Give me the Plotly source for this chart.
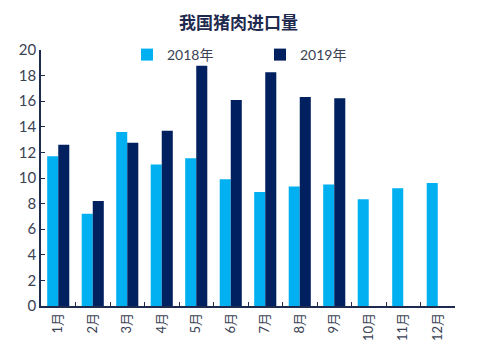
import plotly.graph_objects as go

months = ["1月", "2月", "3月", "4月", "5月", "6月", "7月", "8月", "9月", "10月", "11月", "12月"]
v2018 = [11.7, 7.2, 13.6, 11.05, 11.55, 9.9, 8.9, 9.33, 9.5, 8.34, 9.2, 9.6]
v2019 = [12.6, 8.2, 12.75, 13.7, 18.77, 16.1, 18.27, 16.33, 16.23, None, None, None]
y_ticks = list(range(0, 21, 2))

navy = "#1f2a4f"
txt = "#3a4254"
fig = go.Figure()
fig.add_trace(go.Bar(x=months, y=v2018, name="2018年", marker_color="#00b0f0", marker_line_width=0))
fig.add_trace(go.Bar(x=months, y=v2019, name="2019年", marker_color="#002060", marker_line_width=0))

fig.update_layout(
    width=477, height=361,
    margin=dict(l=41, r=22, t=50, b=55, autoexpand=False),
    paper_bgcolor="white", plot_bgcolor="white",
    barmode="group", bargap=0.36, bargroupgap=0,
    font=dict(family="Lato, Noto Sans CJK SC", color=txt, size=14),
    title=dict(text="<b>我国猪肉进口量</b>", x=0.5, xanchor="center", y=0.935, yanchor="middle",
               font=dict(family="Noto Sans CJK SC", size=17, color="#1f2a4f")),
    legend=dict(orientation="h", x=(127 - 41) / 414, xanchor="left", y=(306 - 55) / 256, yanchor="middle",
                font=dict(size=14, family="Lato, Noto Sans CJK SC", color=txt),
                entrywidthmode="pixels", entrywidth=88, bgcolor="rgba(0,0,0,0)",
                itemwidth=30, tracegroupgap=0),
    showlegend=True,
)
fig.update_xaxes(showline=True, linecolor=navy, linewidth=1.5, ticks="inside", tickson="boundaries",
                 ticklen=4, tickcolor=navy, tickangle=-90, tickfont=dict(size=13, family="Lato, Noto Sans CJK SC"),
                 showgrid=False, automargin=False)
fig.update_yaxes(range=[0, 20], tickvals=y_ticks, showline=True, linecolor=navy, linewidth=1.5,
                 ticks="inside", ticklen=4, tickcolor=navy, showgrid=False, zeroline=False,
                 tickfont=dict(size=15), automargin=False)
fig.write_html("out.html", config={"displayModeBar": False},
               post_script="document.body.style.margin='0';document.body.style.overflow='hidden';")
